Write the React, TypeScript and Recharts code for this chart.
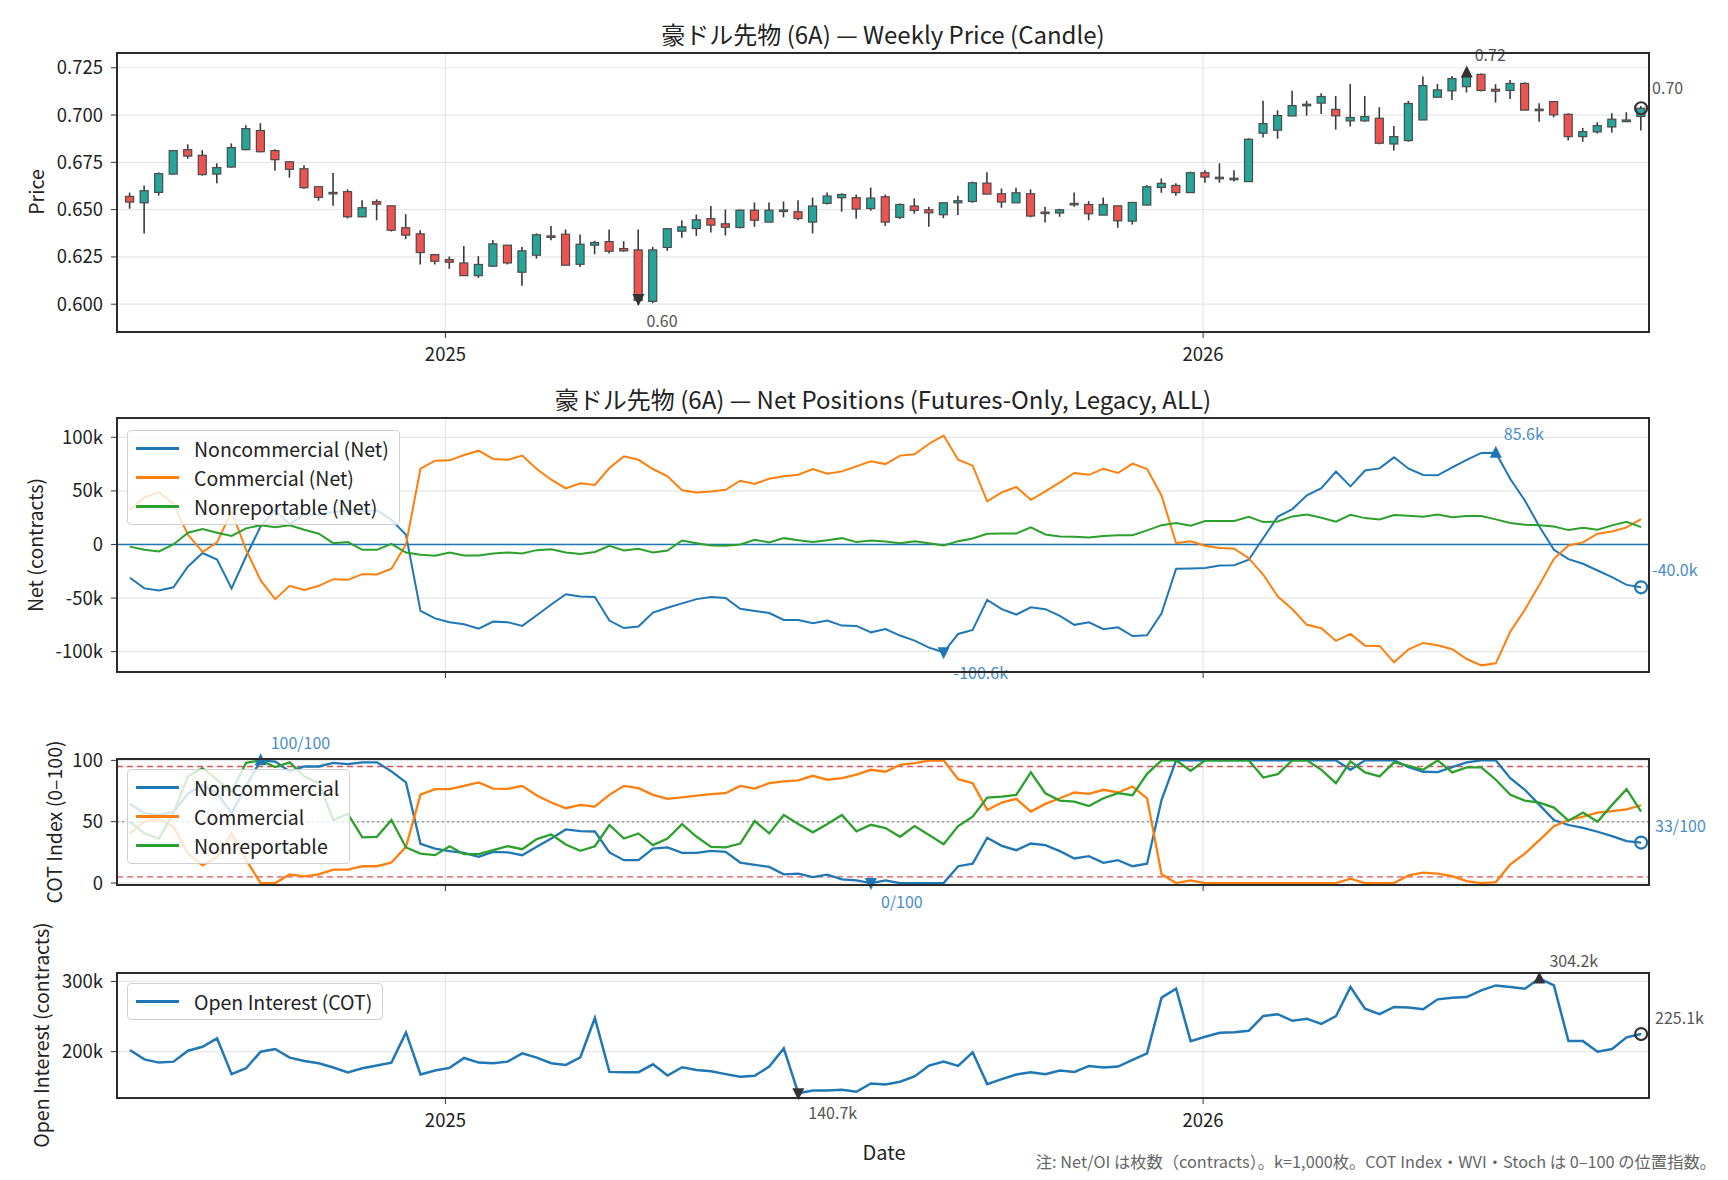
import { Bar, CartesianGrid, ComposedChart, Line, ReferenceLine, Scatter, XAxis, YAxis } from 'recharts'

// weekly bars, first week 2024-08-02
const firstWeek = Date.UTC(2024, 7, 2)
const DAY = 86400000

const open = [0.657,0.6536,0.6591,0.6688,0.6817,0.6787,0.6688,0.6725,0.6817,0.6918,0.6812,0.6753,0.6716,0.6621,0.6591,0.6595,0.6462,0.6542,0.652,0.6404,0.6372,0.6262,0.6236,0.6218,0.6151,0.6201,0.6312,0.6169,0.6259,0.6361,0.637,0.6211,0.6312,0.6331,0.6294,0.6287,0.6015,0.63,0.6386,0.64,0.6452,0.6425,0.6406,0.6497,0.6434,0.6496,0.6489,0.6434,0.6533,0.6563,0.6563,0.6506,0.6568,0.6459,0.6519,0.6499,0.6473,0.6536,0.6543,0.664,0.6584,0.6536,0.6584,0.6487,0.6482,0.6532,0.6527,0.6471,0.652,0.6439,0.6524,0.6617,0.6628,0.659,0.6695,0.6671,0.6665,0.6648,0.6904,0.692,0.6995,0.7055,0.7063,0.703,0.6969,0.6969,0.6983,0.6847,0.6865,0.6974,0.7094,0.7128,0.715,0.7215,0.7136,0.713,0.7167,0.7031,0.7071,0.7004,0.6886,0.6911,0.6937,0.6965,0.6992]
const high = [0.659,0.6628,0.6697,0.6815,0.6845,0.6814,0.6745,0.685,0.6946,0.6957,0.6819,0.6755,0.6734,0.6621,0.6693,0.6607,0.655,0.6554,0.652,0.6476,0.6391,0.6266,0.6252,0.6307,0.6254,0.6338,0.6312,0.6303,0.6374,0.6413,0.6395,0.6368,0.6335,0.6395,0.6333,0.6395,0.6303,0.6399,0.6443,0.6474,0.6519,0.6501,0.6501,0.6538,0.6538,0.6543,0.6549,0.6564,0.6591,0.6586,0.658,0.6617,0.658,0.6533,0.6559,0.6515,0.6536,0.6573,0.6648,0.6697,0.6612,0.6616,0.6607,0.6515,0.6504,0.659,0.6545,0.6564,0.652,0.6538,0.663,0.6665,0.664,0.6701,0.6708,0.6745,0.6708,0.6877,0.7075,0.7025,0.7128,0.7075,0.7115,0.7101,0.7165,0.7101,0.7041,0.6942,0.7075,0.7204,0.7165,0.7207,0.7225,0.722,0.7163,0.7185,0.7173,0.7063,0.7075,0.7009,0.6932,0.6962,0.701,0.7015,0.7048]
const low = [0.6505,0.6374,0.6574,0.6685,0.6769,0.668,0.6639,0.6722,0.6814,0.6803,0.6706,0.6669,0.661,0.6547,0.652,0.6453,0.6459,0.6444,0.6384,0.6344,0.621,0.621,0.6187,0.6151,0.6139,0.6201,0.621,0.6098,0.6241,0.6338,0.6206,0.6197,0.6264,0.6268,0.6277,0.5996,0.6005,0.6282,0.6351,0.6361,0.6379,0.6363,0.64,0.6409,0.6434,0.6459,0.6444,0.6374,0.6527,0.6489,0.6452,0.6494,0.6414,0.645,0.6478,0.6409,0.6455,0.6471,0.6536,0.6582,0.651,0.6536,0.6459,0.6432,0.6462,0.6515,0.6444,0.6471,0.6404,0.6421,0.6524,0.6589,0.6573,0.659,0.6642,0.6642,0.6648,0.6648,0.6881,0.6875,0.6995,0.6997,0.7006,0.6923,0.6939,0.6965,0.6845,0.6812,0.6859,0.6974,0.7094,0.708,0.7119,0.7124,0.7066,0.7085,0.7026,0.6965,0.6988,0.6865,0.6859,0.6902,0.6907,0.6965,0.6918]
const close = [0.654,0.66,0.669,0.6812,0.6783,0.6685,0.6722,0.6828,0.6928,0.6806,0.6764,0.6713,0.6616,0.6565,0.659,0.6462,0.651,0.6529,0.6391,0.6365,0.6273,0.6227,0.6222,0.6151,0.621,0.6319,0.6218,0.6282,0.6367,0.636,0.6206,0.6317,0.6326,0.628,0.6282,0.602,0.6287,0.6399,0.6409,0.6446,0.6418,0.6407,0.6497,0.6444,0.6497,0.6498,0.6453,0.6519,0.6572,0.658,0.6503,0.6561,0.6434,0.6527,0.6496,0.6483,0.6536,0.6547,0.6642,0.6582,0.654,0.6589,0.6466,0.6486,0.6499,0.6533,0.6478,0.6527,0.6441,0.6538,0.6621,0.6639,0.659,0.6695,0.6672,0.667,0.6666,0.6872,0.6955,0.6997,0.705,0.7057,0.7098,0.6996,0.6987,0.6992,0.6851,0.6886,0.7061,0.7156,0.7133,0.7193,0.7205,0.713,0.7126,0.7167,0.7026,0.703,0.7001,0.6886,0.6912,0.6944,0.6978,0.6974,0.7036]

// net positions, thousands of contracts
const ncNet = [-31,-41,-43,-40,-20.5,-8,-14,-41,-11,17,32,19,28,28,30,32,31,32,23,9,-62,-69,-72.5,-74.5,-78.5,-72,-72.5,-76,-66,-56,-46.5,-48.5,-49,-71,-78,-76.6,-63.5,-59,-55,-51,-49,-50,-60,-62,-64,-70.4,-70.4,-73.5,-71,-75.7,-76,-82,-79,-85,-89.7,-96.3,-100.6,-83.5,-79.8,-51.7,-60.4,-65.4,-58.6,-60.4,-66.7,-75,-72.6,-79,-77.3,-85.4,-84.7,-64.2,-22.7,-22.4,-22,-19.6,-19.3,-14.3,6,26,33,45.8,52.6,68,54.2,69,71,81.3,70.7,64.8,64.5,72,79,85.4,85.6,61,41,16.8,-5,-13.7,-18,-24.3,-30.5,-37.7,-40]
const cNet = [32,44,48.6,38,9,-7,2,31,-5,-33.6,-51,-38.6,-42.4,-38.6,-32.4,-33,-27.7,-28,-22.7,0,70.7,78.2,78.5,83.5,87.5,79.8,79,83,70.4,60.4,52.3,57,55.5,71.3,82.2,79,70.4,63.6,50.5,48.6,49.5,51,59.5,56.4,61.4,63.6,65,70.4,66,68.2,72.9,77.6,75,82.9,84.1,94,101.6,79,73.5,40.2,48.6,53.6,41.7,49.5,58,66.7,65,70.7,66.7,75.4,70.4,45.5,1.2,3,-1.2,-3.4,-4,-12.8,-28.3,-48.6,-60.4,-75,-78.2,-90,-83.5,-94.4,-94.7,-110,-97.8,-91.9,-94,-97.8,-106.9,-112.8,-110.9,-81.3,-61,-37.7,-13.4,-1,1.9,10,12.1,15.9,23.7]
const nrNet = [-2,-5,-6.5,0,11,14.3,11,8,15,18,16,18,13.7,10,1.2,2.2,-5,-5,0.6,-7.5,-9.7,-10.6,-7.5,-10.3,-10.3,-8.4,-7.5,-8.4,-5.3,-4.4,-7.5,-9,-7,-1.2,-5.6,-4,-7.5,-5.6,3.7,1.2,-1,-1.2,0,4.4,1.9,5.9,4,2.2,4,5.9,2.2,3.7,2.8,1.2,3.1,1.2,-1,3.1,5.6,10,10.3,10.3,15.9,9.3,7.5,7.2,6.5,7.8,8.7,8.7,13.1,18,20,17.4,21.8,21.8,22,25.9,20.9,21.5,26.2,28,25,21.2,27.7,24.6,23.4,27.4,26.8,25.9,28,25.5,26.5,26.5,23.4,20,18.4,18,16.8,13.4,15.6,13.7,17.8,21.2,16.2]

// COT index 0-100
const ncIdx = [64.5,57,55.5,58,73,80,73,57,79,100,99,91,95,95,98,97,98.4,98.4,91,82,32,28,26,24.6,21.3,25.4,25,22.7,29.5,36.3,43.7,42.3,42,24.9,18.6,18.6,28,29,24.6,24.6,26.2,25.4,16.7,14.8,13.1,7.1,7.7,4.9,6.8,3,2.2,0,2.2,0,0,0,0,13.7,15.8,36.9,30.3,26.8,32.2,30.9,26,20,21.9,16.4,18.6,13.7,15.8,67.8,100,100,100,100,100,100,100,100,100,100,100,100,92.3,100,100,100,94.5,90.7,90.4,94.5,98.4,100,100,85.5,76,63.7,51.4,47.3,45,41.8,38.3,34.2,33]
const cIdx = [40.4,50,52,46,24,14.5,21.3,40.4,18.6,0,0,7,5.5,7,11,11,13.7,13.7,16.7,29.5,72,76.5,76.5,79.2,82,77,76.8,79.2,71.3,65.6,61,63.7,62.3,71.9,79.2,77.3,71.9,68.6,69.9,71.3,72.4,73.2,79.2,77,81.4,82.8,83.6,87.4,84.2,85.5,88.3,92.3,90.7,96.4,97.8,99.7,100,84.7,81.4,59.6,65.6,68.6,58.2,64.5,69.1,73.8,72.7,76,73.8,78.7,69.1,7.1,0,2.2,0,0,0,0,0,0,0,0,0,0,3.6,0,0,0,6.3,8.5,7.7,5.7,1.6,0,0.8,15.3,24,35,46.4,51.4,54.1,57.4,58.7,60.1,63.4]
const nrIdx = [50,40.4,36.3,57,87,93.7,84,74.6,98,100,94.5,98.4,87,81.4,51.4,56.3,37.2,37.7,51.4,29,24,22.7,30,23.5,23.5,26.8,30,27.6,35.8,39.6,31.4,26.2,30,47.3,36.3,40.4,30.9,36.3,48,37.7,29.5,29,32.2,50.5,40.4,55.5,48.1,41.3,48.1,55.5,42.1,47.5,44.8,37.7,46.4,39.1,31.7,46.4,54.1,69.7,70.5,71.9,90.2,73.2,67.2,66.4,62.8,69.1,73.2,71.6,89,100,100,91.5,100,100,100,100,86,88.8,100,100,92.3,81.4,99.2,90.2,86.9,98.4,95.6,92.3,100,90.2,94.3,94.3,84.2,71.9,67.2,65.6,61.5,50.8,57.4,50,63.7,76.5,58.2]

// open interest, thousands
const openInterest = [202.4,189,184.4,185.8,201.4,207,218.9,168,176.4,200,203.8,191.5,186.8,183.5,177.4,170.3,176.4,180.2,184.4,227.4,167.5,173.1,176.9,191,184.4,183.5,185.8,197.6,191.5,183.5,181.1,192,248,171.2,170.8,170.8,182,166,177.8,174,172.2,168,164.2,165.6,178.8,204.7,140.7,144.8,144.8,145.8,142.9,154.7,153.3,157.1,164.6,180.2,185.8,179.7,199,153.8,160.8,167.5,170.8,168,173.1,171.2,179.7,177.4,178.8,188.2,197.6,276.9,289.6,215,221.2,226.9,227.8,229.7,250.9,253.3,243.9,246.7,239.6,250.5,292,261.3,253.3,263.7,262.7,260.4,274.5,276.9,277.8,287.3,294.3,292,289.6,304.2,294.3,215,215,200,203.8,220.3,225.1]

const yearTicks = [Date.UTC(2025, 0, 1), Date.UTC(2026, 0, 1)]
const priceTicks = [0.6, 0.625, 0.65, 0.675, 0.7, 0.725]
const netTicks = [-100, -50, 0, 50, 100]
const idxTicks = [0, 50, 100]
const oiTicks = [200, 300]

const rows = open.map((o, i) => ({
  t: firstWeek + i * 7 * DAY,
  open: o, high: high[i], low: low[i], close: close[i],
  ncNet: ncNet[i], cNet: cNet[i], nrNet: nrNet[i],
  ncIdx: ncIdx[i], cIdx: cIdx[i], nrIdx: nrIdx[i],
  oi: openInterest[i],
}))
const xDomain = [rows[0].t - 6.2 * DAY, rows[rows.length - 1].t + 3.8 * DAY]

const W = 1728
const H = 1180
const PLOT_L = 117
const PLOT_R = 1649
const FONT = '"Noto Sans CJK JP", "Noto Sans", sans-serif'
const BLUE = '#1f77b4'
const ORANGE = '#ff7f0e'
const GREEN = '#2ca02c'
const NOTE_BLUE = '#4a8cc4'
const NOTE_GRAY = '#555'
const TICK = { fontSize: 18.5, fill: '#222', fontFamily: FONT }

const Candle = (props: any) => {
  const { x, y, width, height, payload } = props
  const { open: o, close: c, high: h, low: l } = payload
  const span = h - l || 1e-9
  const py = (p: number) => y + ((h - p) / span) * height
  const cx = x + width / 2
  const top = py(Math.max(o, c))
  const bot = py(Math.min(o, c))
  return (
    <g>
      <line x1={cx} x2={cx} y1={py(h)} y2={py(l)} stroke="#3a3a3a" strokeWidth={1.6} />
      <rect x={x} y={top} width={width} height={Math.max(bot - top, 1.5)} fill={c >= o ? '#26a69a' : '#ef5350'} stroke="#4a4a4a" strokeWidth={1.2} />
    </g>
  )
}

const note = (kind: string, color: string, text: string, dx: number, dy: number, boxed = false, lift = 0) => (p: any) => {
  const cx = p.cx
  const cy = p.cy + lift
  let mark
  if (kind === 'up') mark = <polygon points={`${cx - 6},${cy + 5} ${cx + 6},${cy + 5} ${cx},${cy - 7}`} fill={color} />
  else if (kind === 'down') mark = <polygon points={`${cx - 6},${cy - 5} ${cx + 6},${cy - 5} ${cx},${cy + 7}`} fill={color} />
  else mark = <circle cx={cx} cy={cy} r={6} fill="none" stroke={color} strokeWidth={2.2} />
  return (
    <g>
      {mark}
      {boxed && <rect x={cx + dx - 3} y={cy + dy - 11} width={text.length * 9 + 6} height={20} fill="#fff" opacity={0.85} />}
      <text x={cx + dx} y={cy + dy} dy="0.35em" fontSize={16} fill={color === BLUE ? NOTE_BLUE : NOTE_GRAY} fontFamily={FONT}>{text}</text>
    </g>
  )
}

function Panel({ top, bottom, domain, ticks, fmt, xLabels, children }: any) {
  return (
    <div style={{ position: 'absolute', left: 0, top: 0 }}>
      <ComposedChart width={W} height={H} data={rows} margin={{ top, right: W - PLOT_R, bottom: H - bottom - 30, left: 0 }}>
        <CartesianGrid stroke="#e6e6e6" strokeWidth={1.2} />
        <XAxis dataKey="t" type="number" domain={xDomain} ticks={yearTicks} height={30} tickSize={6} tickMargin={10}
          tickFormatter={(v: number) => (xLabels ? String(new Date(v).getUTCFullYear()) : '')}
          tick={TICK} stroke="#333" axisLine={false} />
        <YAxis type="number" domain={domain} ticks={ticks} width={PLOT_L} tickSize={6} tickMargin={8} tickFormatter={fmt}
          tick={TICK} stroke="#333" axisLine={false} interval={0} />
        {children}
      </ComposedChart>
    </div>
  )
}

const kFmt = (v: number) => (v === 0 ? '0' : `${v}k`)
const last = rows.length - 1

const txt = (s: any): any => ({ position: 'absolute', fontFamily: FONT, color: '#222', whiteSpace: 'nowrap', ...s })
const vlabel = (x: number, y: number) => txt({ left: x, top: y, fontSize: 19.5, transform: 'translate(-50%, -50%) rotate(-90deg)' })
const frame = (top: number, bottom: number) => (
  <div style={{ position: 'absolute', left: PLOT_L - 1, top: top - 1, width: PLOT_R - PLOT_L + 2, height: bottom - top + 2, border: '2px solid #2b2b2b', boxSizing: 'border-box', pointerEvents: 'none' }} />
)

function LegendBox({ left, top, items }: any) {
  return (
    <div style={{ position: 'absolute', left, top, background: 'rgba(255,255,255,0.8)', border: '1.5px solid #d0d0d0', borderRadius: 4, padding: '3px 10px 3px 8px', fontFamily: FONT, fontSize: 19.5, color: '#222' }}>
      {items.map((it: any) => (
        <div key={it.name} style={{ display: 'flex', alignItems: 'center', height: 29 }}>
          <span style={{ display: 'inline-block', width: 43, height: 2.5, background: it.color, marginRight: 15 }} />
          <span>{it.name}</span>
        </div>
      ))}
    </div>
  )
}

const lineProps = { type: 'linear' as const, dot: false, isAnimationActive: false, strokeWidth: 2.3 }

export default function App() {
  return (
    <div style={{ position: 'fixed', left: 0, top: 0, width: W, height: H, background: '#fff', overflow: 'hidden' }}>
      <Panel top={53} bottom={332} domain={[0.5853, 0.7328]} ticks={priceTicks} fmt={(v: number) => v.toFixed(3)} xLabels>
        <Bar dataKey={(d: any) => [d.low, d.high]} barSize={8} shape={Candle} isAnimationActive={false} />
        <Scatter data={[{ t: rows[92].t, v: rows[92].high }]} dataKey="v" isAnimationActive={false} shape={note('up', '#333', '0.72', 8, -17, true)} />
        <Scatter data={[{ t: rows[35].t, v: rows[35].low }]} dataKey="v" isAnimationActive={false} shape={note('down', '#333', '0.60', 8, 22, false, -6)} />
        <Scatter data={[{ t: rows[last].t, v: rows[last].close }]} dataKey="v" isAnimationActive={false} shape={note('circle', '#333', '0.70', 11, -20)} />
      </Panel>

      <Panel top={418} bottom={672} domain={[-119, 118]} ticks={netTicks} fmt={kFmt}>
        <ReferenceLine y={0} stroke={BLUE} strokeWidth={1.4} />
        <Line dataKey="ncNet" stroke={BLUE} {...lineProps} strokeWidth={2} />
        <Line dataKey="cNet" stroke={ORANGE} {...lineProps} strokeWidth={2} />
        <Line dataKey="nrNet" stroke={GREEN} {...lineProps} strokeWidth={2} />
        <Scatter data={[{ t: rows[94].t, v: rows[94].ncNet }]} dataKey="v" isAnimationActive={false} shape={note('up', BLUE, '85.6k', 8, -18)} />
        <Scatter data={[{ t: rows[56].t, v: rows[56].ncNet }]} dataKey="v" isAnimationActive={false} shape={note('down', BLUE, '-100.6k', 10, 21, true)} />
        <Scatter data={[{ t: rows[last].t, v: rows[last].ncNet }]} dataKey="v" isAnimationActive={false} shape={note('circle', BLUE, '-40.0k', 11, -17)} />
      </Panel>

      <Panel top={759} bottom={885} domain={[-1.6, 101.1]} ticks={idxTicks} fmt={(v: number) => String(v)}>
        <ReferenceLine y={95} stroke="#d62728" strokeOpacity={0.8} strokeDasharray="6 4" strokeWidth={1.4} />
        <ReferenceLine y={5} stroke="#d62728" strokeOpacity={0.8} strokeDasharray="6 4" strokeWidth={1.4} />
        <ReferenceLine y={50} stroke="#999" strokeDasharray="2 3" strokeWidth={1.4} />
        <Line dataKey="ncIdx" stroke={BLUE} {...lineProps} />
        <Line dataKey="cIdx" stroke={ORANGE} {...lineProps} />
        <Line dataKey="nrIdx" stroke={GREEN} {...lineProps} />
        <Scatter data={[{ t: rows[9].t, v: rows[9].ncIdx }]} dataKey="v" isAnimationActive={false} shape={note('up', BLUE, '100/100', 10, -17)} />
        <Scatter data={[{ t: rows[51].t, v: rows[51].ncIdx }]} dataKey="v" isAnimationActive={false} shape={note('down', BLUE, '0/100', 10, 19)} />
        <Scatter data={[{ t: rows[last].t, v: rows[last].ncIdx }]} dataKey="v" isAnimationActive={false} shape={note('circle', BLUE, '33/100', 14, -16)} />
      </Panel>

      <Panel top={973} bottom={1098} domain={[134, 312]} ticks={oiTicks} fmt={kFmt} xLabels>
        <Line dataKey="oi" stroke={BLUE} {...lineProps} strokeWidth={2.5} />
        <Scatter data={[{ t: rows[97].t, v: rows[97].oi }]} dataKey="v" isAnimationActive={false} shape={note('up', '#333', '304.2k', 10, -17, true)} />
        <Scatter data={[{ t: rows[46].t, v: rows[46].oi }]} dataKey="v" isAnimationActive={false} shape={note('down', '#333', '140.7k', 10, 20)} />
        <Scatter data={[{ t: rows[last].t, v: rows[last].oi }]} dataKey="v" isAnimationActive={false} shape={note('circle', '#333', '225.1k', 14, -16)} />
      </Panel>

      {frame(53, 332)}
      {frame(418, 672)}
      {frame(759, 885)}
      {frame(973, 1098)}

      <div style={txt({ left: (PLOT_L + PLOT_R) / 2, top: 33, fontSize: 24, transform: 'translate(-50%, -50%)' })}>豪ドル先物 (6A) — Weekly Price (Candle)</div>
      <div style={txt({ left: (PLOT_L + PLOT_R) / 2, top: 398, fontSize: 24, transform: 'translate(-50%, -50%)' })}>豪ドル先物 (6A) — Net Positions (Futures-Only, Legacy, ALL)</div>

      <div style={vlabel(35, 192)}>Price</div>
      <div style={vlabel(34, 545)}>Net (contracts)</div>
      <div style={vlabel(53, 822)}>COT Index (0–100)</div>
      <div style={vlabel(40, 1035)}>Open Interest (contracts)</div>

      <div style={txt({ left: 884, top: 1151, fontSize: 20, transform: 'translate(-50%, -50%)' })}>Date</div>
      <div style={txt({ right: W - 1716, top: 1161, fontSize: 16.3, color: '#666', transform: 'translateY(-50%)' })}>注: Net/OI は枚数（contracts）。k=1,000枚。COT Index・WVI・Stoch は 0–100 の位置指数。</div>

      <LegendBox left={127} top={430} items={[{ name: 'Noncommercial (Net)', color: BLUE }, { name: 'Commercial (Net)', color: ORANGE }, { name: 'Nonreportable (Net)', color: GREEN }]} />
      <LegendBox left={127} top={769} items={[{ name: 'Noncommercial', color: BLUE }, { name: 'Commercial', color: ORANGE }, { name: 'Nonreportable', color: GREEN }]} />
      <LegendBox left={127} top={983} items={[{ name: 'Open Interest (COT)', color: BLUE }]} />
    </div>
  )
}
